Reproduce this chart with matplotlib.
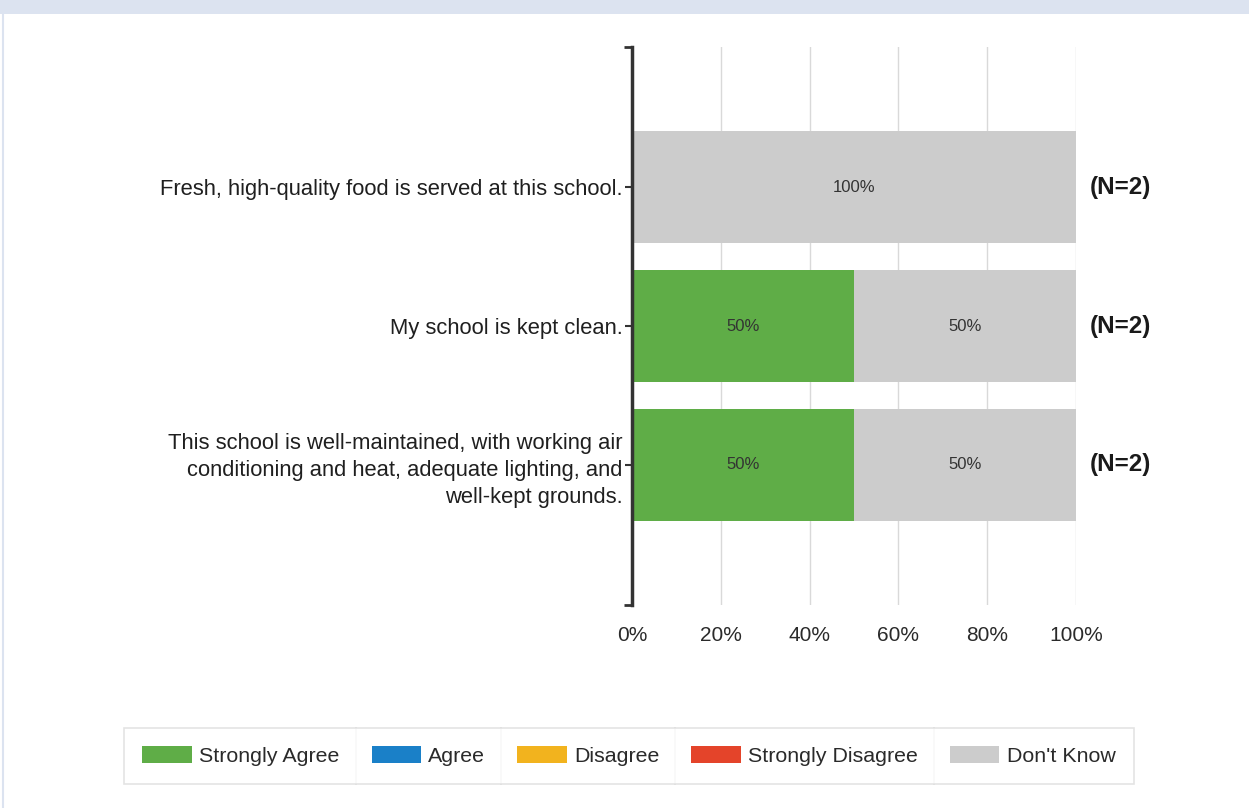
import matplotlib.pyplot as plt
import numpy as np
from matplotlib.patches import Rectangle
from matplotlib.lines import Line2D

plt.rcParams['font.family'] = ['Liberation Sans', 'DejaVu Sans']

# Data
questions = [
    'Fresh, high-quality food is served at this school.',
    'My school is kept clean.',
    'This school is well-maintained, with working air\nconditioning and heat, adequate lighting, and\nwell-kept grounds.',
]
responses = ['Strongly Agree', 'Agree', 'Disagree', 'Strongly Disagree', "Don't Know"]
colors = ['#5fad47', '#1a80c8', '#f2b31e', '#e4442a', '#cccccc']
values = np.array([
    [0, 0, 0, 0, 100],
    [50, 0, 0, 0, 50],
    [50, 0, 0, 0, 50],
])
counts = [2, 2, 2]

fig = plt.figure(figsize=(12.49, 8.08), dpi=100)
# top band / frame of the page
fig.patches.append(Rectangle((0, 1 - 14 / 808), 1, 14 / 808, transform=fig.transFigure,
                             facecolor='#dce3f0', edgecolor='none'))
fig.lines.append(Line2D([3 / 1249, 3 / 1249], [0, 1], transform=fig.transFigure,
                        color='#dce3f0', lw=1.5))

ax = fig.add_axes([0.506, 0.2512, 0.3555, 0.6906])

y = np.arange(len(questions))
left = np.zeros(len(questions))
for j, resp in enumerate(responses):
    ax.barh(y, values[:, j], left=left, height=0.81, color=colors[j], label=resp, zorder=2)
    for i in range(len(questions)):
        v = values[i, j]
        if v > 0:
            ax.text(left[i] + v / 2, y[i], f'{v:.0f}%', ha='center', va='center',
                    fontsize=12, color='#333333', zorder=3)
    left += values[:, j]

for i, n in enumerate(counts):
    ax.text(1.03, y[i], f'(N={n})', transform=ax.get_yaxis_transform(),
            ha='left', va='center', fontsize=17.5, fontweight='bold', color='#1a1a1a')

ax.set_xlim(0, 100)
ax.set_ylim(3.01, -1.01)
ax.set_xticks([0, 20, 40, 60, 80, 100])
ax.set_xticklabels(['0%', '20%', '40%', '60%', '80%', '100%'], fontsize=15, color='#2a2a2a')
ax.set_yticks(y)
ax.set_yticklabels(questions, fontsize=15.8, color='#1f1f1f', linespacing=1.4)
ax.set_yticks([-1.01, 3.01], minor=True)
ax.tick_params(axis='y', which='major', length=5, width=1.5, color='#333333', pad=2)
ax.tick_params(axis='y', which='minor', length=6, width=2, color='#333333')
ax.tick_params(axis='x', length=0, pad=15)

ax.grid(axis='x', color='#d9d9d9', lw=1, zorder=0)
for s in ['top', 'right', 'bottom']:
    ax.spines[s].set_visible(False)
ax.spines['left'].set_color('#333333')
ax.spines['left'].set_linewidth(2.5)
ax.spines['left'].set_zorder(4)

handles, labels = ax.get_legend_handles_labels()
leg = fig.legend(handles, labels, loc='center', bbox_to_anchor=(0.5036, 0.0644), ncol=5,
                 fontsize=15.4, frameon=True, fancybox=False, edgecolor='#dddddd',
                 handlelength=2.3, handleheight=0.8, handletextpad=0.35,
                 columnspacing=1.5, borderpad=0.85, borderaxespad=0)
leg.get_frame().set_linewidth(1.2)
for t in leg.get_texts():
    t.set_color('#2a2a2a')

# separators between legend cells
fig.canvas.draw()
r = fig.canvas.get_renderer()
lb = leg.get_window_extent(r)
texts = leg.get_texts()
patches = leg.legend_handles
W, H = fig.bbox.width, fig.bbox.height
for k in range(len(texts) - 1):
    x0 = texts[k].get_window_extent(r).x1
    x1 = patches[k + 1].get_window_extent(r).x0
    xm = (x0 + x1) / 2 / W
    fig.lines.append(Line2D([xm, xm], [lb.y0 / H, lb.y1 / H], transform=fig.transFigure,
                            color='#dddddd', lw=1.2))

fig.savefig('out.png', dpi=100)
